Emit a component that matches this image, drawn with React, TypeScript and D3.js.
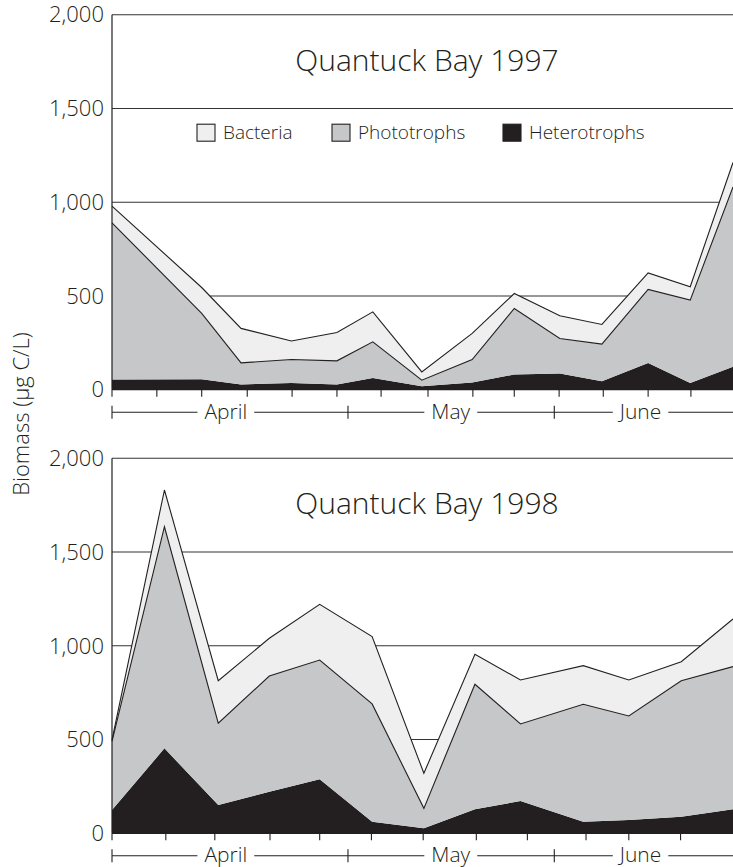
import React, { useLayoutEffect, useRef, useState } from "react";
import * as d3 from "d3";

// sampling dates, in days from 1 April
const days1997 = [0, 13, 18.7, 26, 32.6, 37.8, 44.9, 52.2, 58.3, 64.9, 71, 77.7, 83.8, 90];
const het1997 = [54, 56, 28, 36, 28, 63, 19, 38, 81, 86, 45, 143, 36, 122];
const phot1997 = [836, 351, 115, 125, 126, 192, 32, 123, 352, 187, 198, 392, 442, 960];
const bact1997 = [89, 138, 184, 99, 151, 160, 44, 139, 80, 121, 105, 88, 71, 130];
const ticks1997 = [0, 6.5, 13, 19.6, 26.1, 32.6, 39, 45.8, 52.3, 58.3, 64.8, 71.2, 77.7, 83.9];

const days1998 = [0, 7.6, 15.4, 22.8, 30.1, 37.7, 45.2, 52.6, 59.2, 68.3, 74.9, 82.5, 90];
const het1998 = [124, 453, 151, 222, 288, 62, 27, 128, 172, 62, 71, 88, 128];
const phot1998 = [366, 1182, 436, 617, 636, 628, 106, 667, 411, 626, 555, 726, 761];
const bact1998 = [8, 196, 227, 201, 297, 359, 187, 160, 235, 206, 192, 101, 254];
const ticks1998 = [0, 7.8, 14.9, 22.9, 30.1, 37.6, 45.1, 52.8, 60.2, 68.7, 74.9, 82.4];

const yTicks = [0, 500, 1000, 1500, 2000];
const months = ["April", "May", "June"];
const monthCenters = [16.5, 49.1, 76.6];
const monthBounds = [34.2, 64.1];

const keys = ["het", "phot", "bact"];
const fills: Record<string, string> = { het: "#231f20", phot: "#c6c7c8", bact: "#efefef" };
const legendItems = [
  { key: "bact", label: "Bacteria", x: 197 },
  { key: "phot", label: "Phototrophs", x: 332 },
  { key: "het", label: "Heterotrophs", x: 503 },
];

const ink = "#231f20";
const font = "'Open Sans', sans-serif";
const W = 733;
const H = 867;
const left = 112;
const plotH = 375;

const x = d3.scaleLinear().domain([0, 90]).range([left, W]);

function MonthAxis({ y0 }) {
  const refs = useRef([]);
  const [widths, setWidths] = useState([48, 43, 45]);
  useLayoutEffect(() => {
    const w = refs.current.map((el, i) => (el ? el.getComputedTextLength() : widths[i]));
    if (w.some((v, i) => Math.abs(v - widths[i]) > 0.5)) setWidths(w);
  }, []);
  const my = y0 + 22.5;
  const gap = 7;
  // line pieces between the labels
  const stops = [left];
  months.forEach((m, i) => {
    const cx = x(monthCenters[i]);
    stops.push(cx - widths[i] / 2 - gap, cx + widths[i] / 2 + gap);
  });
  stops.push(W);
  const pieces = d3.range(0, stops.length, 2).map((i) => [stops[i], stops[i + 1]]);
  return (
    <g>
      {pieces.map(([a, b], i) => (
        <line key={i} x1={a} x2={b} y1={my} y2={my} stroke={ink} strokeWidth={1.1} />
      ))}
      <line x1={left} x2={left} y1={my - 6.5} y2={my + 6.5} stroke={ink} strokeWidth={1.1} />
      {monthBounds.map((b) => (
        <line key={b} x1={x(b)} x2={x(b)} y1={my - 6.5} y2={my + 6.5} stroke={ink} strokeWidth={1.1} />
      ))}
      {months.map((m, i) => (
        <text
          key={m}
          ref={(el) => (refs.current[i] = el)}
          x={x(monthCenters[i])}
          y={y0 + 29}
          textAnchor="middle"
          fontSize={21}
          fill={ink}
        >
          {m}
        </text>
      ))}
    </g>
  );
}

function Panel({ top, title, days, het, phot, bact, ticks, legend }) {
  const y = d3.scaleLinear().domain([0, 2000]).range([top + plotH, top]);
  const rows = days.map((d, i) => ({ day: d, het: het[i], phot: phot[i], bact: bact[i] }));
  const series = d3.stack().keys(keys)(rows);
  const area = d3
    .area()
    .x((d) => x(d.data.day))
    .y0((d) => y(d[0]))
    .y1((d) => y(d[1]));
  const line = d3
    .line()
    .x((d) => x(d.data.day))
    .y((d) => y(d[1]));
  const y0 = y(0);

  return (
    <g>
      {yTicks.map((t) => (
        <g key={t}>
          {t > 0 && <line x1={left} x2={W} y1={y(t)} y2={y(t)} stroke="#333" strokeWidth={1.1} />}
          <text x={104} y={y(t)} dy="0.35em" textAnchor="end" fontSize={22} fill={ink}>
            {d3.format(",")(t)}
          </text>
        </g>
      ))}
      {series.map((s) => (
        <path key={s.key} d={area(s)} fill={fills[s.key]} />
      ))}
      {series
        .filter((s) => s.key !== "het")
        .map((s) => (
          <path key={"l" + s.key} d={line(s)} fill="none" stroke={ink} strokeWidth={1.1} />
        ))}
      <line x1={left} x2={W} y1={y0} y2={y0} stroke={ink} strokeWidth={1.2} />
      <line x1={left} x2={left} y1={y(2000)} y2={y0} stroke={ink} strokeWidth={1.2} />
      {ticks.map((t, i) => (
        <line key={i} x1={x(t)} x2={x(t)} y1={y0} y2={y0 + 7} stroke={ink} strokeWidth={1.1} />
      ))}
      <MonthAxis y0={y0} />
      <text x={427} y={top + 56} textAnchor="middle" fontSize={30} fill={ink}>
        {title}
      </text>
      {legend &&
        legendItems.map((it) => (
          <g key={it.key}>
            <rect x={it.x} y={top + 109.5} width={18} height={17} fill={fills[it.key]} stroke={ink} strokeWidth={1.1} />
            <text x={it.x + 26} y={top + 124.5} fontSize={19} fill={ink}>
              {it.label}
            </text>
          </g>
        ))}
    </g>
  );
}

export default function App() {
  return (
    <svg
      width={W}
      height={H}
      style={{ position: "absolute", left: 0, top: 0, fontFamily: font, fontWeight: 300 }}
    >
      <rect width={W} height={H} fill="#fff" />
      <Panel
        top={14.7}
        title="Quantuck Bay 1997"
        days={days1997}
        het={het1997}
        phot={phot1997}
        bact={bact1997}
        ticks={ticks1997}
        legend
      />
      <Panel
        top={458.3}
        title="Quantuck Bay 1998"
        days={days1998}
        het={het1998}
        phot={phot1998}
        bact={bact1998}
        ticks={ticks1998}
        legend={false}
      />
      <text transform="translate(29,414) rotate(-90)" textAnchor="middle" fontSize={22} fill={ink}>
        Biomass (µg C/L)
      </text>
    </svg>
  );
}
